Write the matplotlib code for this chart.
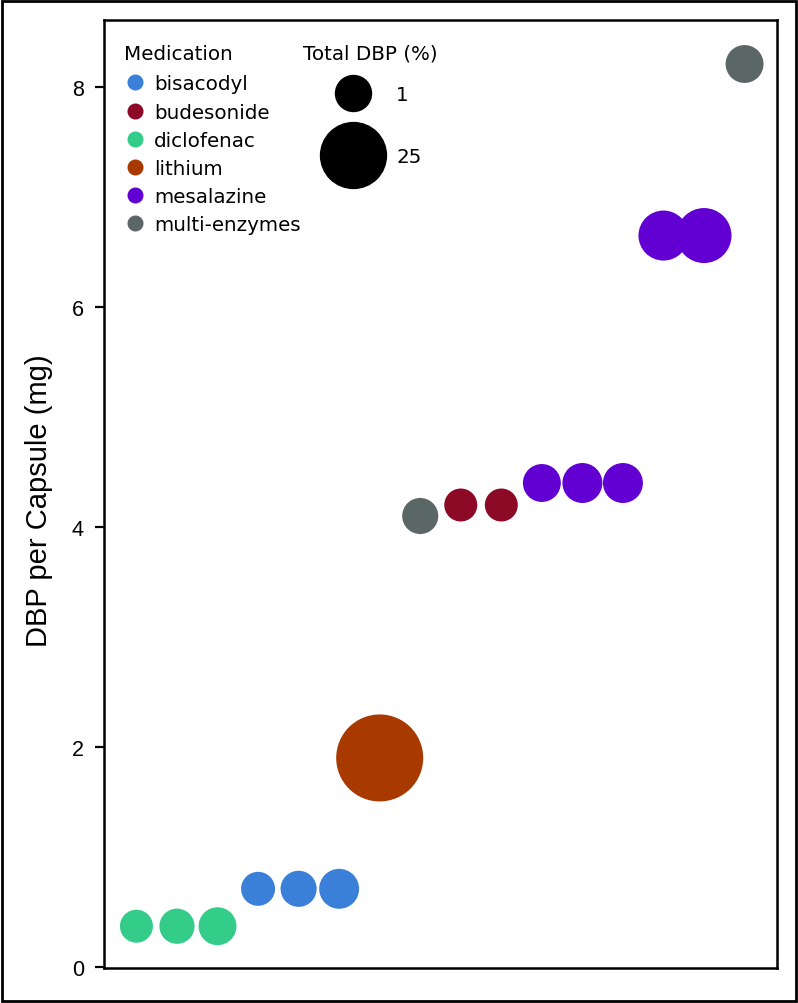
import matplotlib
matplotlib.use("Agg")
import matplotlib.pyplot as plt
from matplotlib.lines import Line2D
from matplotlib.patches import Rectangle
import numpy as np

# data, left to right
medication = ["diclofenac", "diclofenac", "diclofenac",
              "bisacodyl", "bisacodyl", "bisacodyl",
              "lithium",
              "multi-enzymes",
              "budesonide", "budesonide",
              "mesalazine", "mesalazine", "mesalazine",
              "mesalazine", "mesalazine",
              "multi-enzymes"]
dbp_mg = [0.37, 0.37, 0.37,
          0.71, 0.71, 0.71,
          1.90,
          4.10,
          4.20, 4.20,
          4.40, 4.40, 4.40,
          6.65, 6.65,
          8.21]
total_dbp = [0.6, 0.7, 1.1,
             0.62, 0.8, 1.6,
             61.0,
             0.8,
             0.6, 0.6,
             1.1, 1.6, 1.6,
             6.6, 10.6,
             1.1]

med_order = ["bisacodyl", "budesonide", "diclofenac", "lithium", "mesalazine", "multi-enzymes"]
med_colors = {"bisacodyl": "#3a80d8", "budesonide": "#8c0a26", "diclofenac": "#33cc88",
              "lithium": "#a83a00", "mesalazine": "#6200d4", "multi-enzymes": "#5b6667"}
size_breaks = [1, 25]

DPI = 100
vmin, vmax = 0.6, 61.0
dmin, dmax = 33.0, 87.0   # marker diameter range in pixels


def diam_pt(v):
    # ggplot-like area scale: diameter grows with sqrt of rescaled value
    r = (np.asarray(v, dtype=float) - vmin) / (vmax - vmin)
    d = dmin + (dmax - dmin) * np.sqrt(np.clip(r, 0, None))
    return d * 72 / DPI


font_axis = ["Liberation Sans", "DejaVu Sans"]
font_leg = ["DejaVu Sans"]
FS = 14.3
fs_px = FS * DPI / 72

fig = plt.figure(figsize=(7.98, 10.04), dpi=DPI)
ax = fig.add_axes([104 / 798, 35 / 1004, (777 - 104) / 798, (983 - 35) / 1004])

x = np.arange(1, len(dbp_mg) + 1)
cols = [med_colors[m] for m in medication]
ax.scatter(x, dbp_mg, s=diam_pt(total_dbp) ** 2, c=cols, linewidths=0, zorder=3)

ax.set_xlim(0.2, 16.8)
ax.set_ylim(-0.01, 8.61)
ax.set_xticks([])
ax.set_yticks([0, 2, 4, 6, 8])
ax.set_yticklabels(["0", "2", "4", "6", "8"], family=font_axis, fontsize=15.5)
ax.tick_params(axis="y", length=6.5, width=1.6, pad=8)
for sp in ax.spines.values():
    sp.set_linewidth(1.8)
ax.set_ylabel("DBP per Capsule (mg)", family=font_axis, fontsize=21)
ax.yaxis.set_label_coords((53 - 104) / 673, (969 - 501) / 948)

# colour legend (titles drawn as separate text)
h1 = [Line2D([], [], ls="none", marker="o", ms=16 * 72 / DPI, mfc=med_colors[m], mec="none")
      for m in med_order]
leg1 = ax.legend(h1, med_order, loc="upper left",
                 bbox_to_anchor=(116 / 798, 1 - 67.5 / 1004), bbox_transform=fig.transFigure,
                 frameon=False, prop={"family": font_leg, "size": FS},
                 handlelength=22 / fs_px, handletextpad=8 / fs_px,
                 labelspacing=0.46, borderaxespad=0)
ax.add_artist(leg1)
fig.text(124 / 798, 1 - 60 / 1004, "Medication", family=font_leg, fontsize=FS,
         ha="left", va="baseline")

# size legend
h2 = [Line2D([], [], ls="none", marker="o", ms=diam_pt(b), mfc="black", mec="none")
      for b in size_breaks]
leg2 = ax.legend(h2, [str(b) for b in size_breaks], loc="upper left",
                 bbox_to_anchor=(315.6 / 798, 1 - 78.5 / 1004), bbox_transform=fig.transFigure,
                 frameon=False, prop={"family": font_leg, "size": FS},
                 handlelength=3.0, handletextpad=13 / fs_px, labelspacing=2.16,
                 borderaxespad=0)
fig.text(303 / 798, 1 - 60 / 1004, "Total DBP (%)", family=font_leg, fontsize=FS,
         ha="left", va="baseline")

fig.add_artist(Rectangle((0.002, 0.002), 0.996, 0.996, transform=fig.transFigure,
                         fill=False, lw=2, ec="black"))

fig.savefig("out.png", dpi=DPI)
